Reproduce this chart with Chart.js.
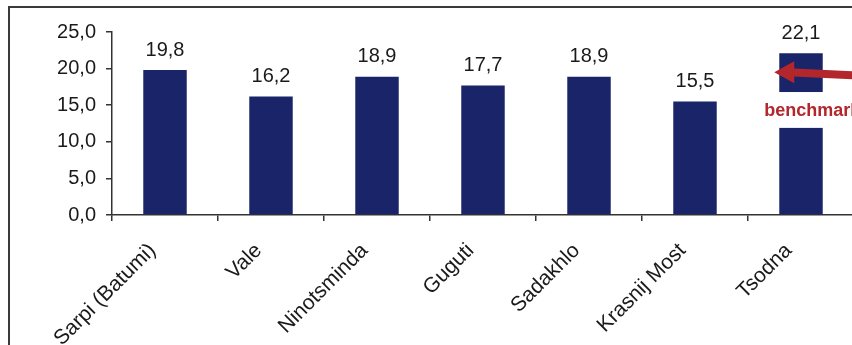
<!DOCTYPE html>
<html>
<head>
<meta charset="utf-8">
<script src="https://cdn.jsdelivr.net/npm/chart.js@4"></script>
<style>
    html, body { margin: 0; padding: 0; background: #fff; overflow: hidden; }
    #wrap { position: relative; width: 852px; height: 345px; overflow: hidden; }
    #frame { position: absolute; left: 8px; top: 6px; width: 1000px; height: 1000px; border: 2px solid #3a3a3a; }
    #box { position: absolute; left: 0; top: 0; width: 900px; height: 345px; }
</style>
</head>
<body>
<div id="wrap">
    <div id="frame"></div>
    <div id="box"><canvas id="chart" width="900" height="345"></canvas></div>
</div>
<script>
// categories and values
const places = ['Sarpi (Batumi)', 'Vale', 'Ninotsminda', 'Guguti', 'Sadakhlo', 'Krasnij Most', 'Tsodna'];
const values = [19.8, 16.2, 18.9, 17.7, 18.9, 15.5, 22.1];
const yTicks = [0, 5, 10, 15, 20, 25];
const benchmarkName = 'Tsodna';
const benchmarkText = 'benchmark';

const fmt = v => v.toFixed(1).replace('.', ',');
const FONT = '"Liberation Sans", Arial, sans-serif';

// value labels above bars
const valueLabels = {
    id: 'valueLabels',
    afterDatasetsDraw(chart) {
        const ctx = chart.ctx;
        const meta = chart.getDatasetMeta(0);
        ctx.save();
        ctx.font = '20px ' + FONT;
        ctx.fillStyle = '#1a1a1a';
        ctx.textAlign = 'center';
        ctx.textBaseline = 'bottom';
        meta.data.forEach((bar, i) => {
            ctx.fillText(fmt(values[i]), bar.x, bar.y - 10);
        });
        ctx.restore();
    }
};

// benchmark note: white gap, red text and arrow
const benchmark = {
    id: 'benchmark',
    afterDraw(chart) {
        const ctx = chart.ctx;
        const y = chart.scales.y;
        const i = places.indexOf(benchmarkName);
        const bar = chart.getDatasetMeta(0).data[i];
        const half = bar.width / 2;
        ctx.save();
        // white gap in the bar
        const gTop = y.getPixelForValue(16.8);
        const gBot = y.getPixelForValue(11.9);
        ctx.fillStyle = '#fff';
        ctx.fillRect(bar.x - half - 1, gTop, bar.width + 2, gBot - gTop);
        // text
        ctx.fillStyle = '#b3262c';
        ctx.font = 'bold 18px ' + FONT;
        ctx.textAlign = 'left';
        ctx.textBaseline = 'middle';
        ctx.fillText(benchmarkText, bar.x - half - 15, y.getPixelForValue(14.2));
        // arrow
        const tipX = bar.x - half - 5;
        const tipY = y.getPixelForValue(19.5);
        const tailY = y.getPixelForValue(18.8);
        ctx.strokeStyle = '#b3262c';
        ctx.lineWidth = 8;
        ctx.beginPath();
        ctx.moveTo(tipX + 14, tipY);
        ctx.lineTo(chart.width, tailY);
        ctx.stroke();
        ctx.beginPath();
        ctx.moveTo(tipX, tipY);
        ctx.lineTo(tipX + 20, tipY - 11);
        ctx.lineTo(tipX + 20, tipY + 11);
        ctx.closePath();
        ctx.fill();
        ctx.restore();
    }
};

new Chart(document.getElementById('chart').getContext('2d'), {
    type: 'bar',
    data: {
        labels: places,
        datasets: [{
            data: values,
            backgroundColor: '#1a2468',
            borderWidth: 0,
            barPercentage: 0.41,
            categoryPercentage: 1
        }]
    },
    options: {
        responsive: false,
        animation: false,
        layout: { padding: { left: 0, right: 46, top: 32, bottom: 0 } },
        plugins: {
            legend: { display: false },
            tooltip: { enabled: false }
        },
        scales: {
            x: {
                offset: true,
                grid: { display: true, offset: true, drawOnChartArea: false, drawTicks: true, tickLength: 6, color: '#333', lineWidth: 1.5 },
                border: { display: true, color: '#333', width: 1.5 },
                ticks: {
                    minRotation: 45, maxRotation: 45, padding: 5,
                    color: '#1a1a1a',
                    font: { size: 21, family: FONT },
                    // trailing spaces pull the rotated text down-left like the original
                    callback(v, i) { return places[i] + '   '; }
                },
                afterFit(scale) { scale.height = 130; }
            },
            y: {
                min: 0, max: 25,
                afterBuildTicks(scale) { scale.ticks = yTicks.map(v => ({ value: v })); },
                grid: { display: true, drawOnChartArea: false, drawTicks: true, tickLength: 6, color: '#333', lineWidth: 1.5 },
                border: { display: true, color: '#333', width: 1.5 },
                ticks: {
                    padding: 10,
                    color: '#1a1a1a',
                    font: { size: 20, family: FONT },
                    callback: v => fmt(v)
                },
                afterFit(scale) { scale.width = 112; }
            }
        }
    },
    plugins: [valueLabels, benchmark]
});
</script>
</body>
</html>
